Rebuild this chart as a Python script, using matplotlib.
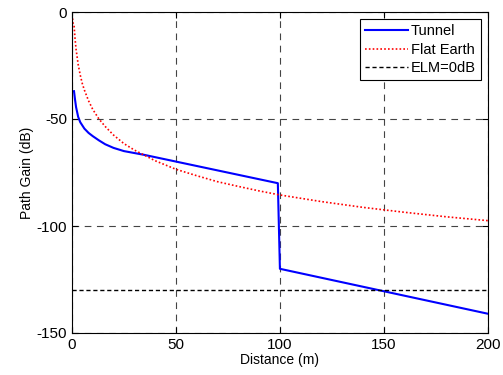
import matplotlib
matplotlib.use('Agg')
import matplotlib.pyplot as plt

plt.rcParams['font.family'] = ['Liberation Sans', 'DejaVu Sans']
plt.rcParams['font.size'] = 9
plt.rcParams['axes.unicode_minus'] = False

# Tunnel path gain
tunnel_x = [1, 1.5, 2, 3, 4, 5, 6, 8, 10, 13, 16, 20, 25, 30, 35, 99, 100, 200]
tunnel_y = [-37, -41, -44.5, -49, -51.5, -53, -54.5, -56.5, -58, -60, -61.8, -63.5, -65, -65.9, -66.8, -80, -120, -141]

# Flat Earth path gain
flat_x = [0.3, 0.5, 0.7, 1, 1.5, 2, 3, 4, 5, 6, 8, 10, 13, 16, 20, 25, 30, 40, 50, 60, 70,
          80, 90, 100, 120, 140, 160, 180, 200]
flat_y = [-3, -5, -5.5, -6, -12.5, -17.5, -24.5, -29.5, -33.5, -36.5, -41.5, -45.5, -50, -53.5,
          -57.5, -61.5, -64.5, -69.5, -73.5, -76.5, -79.3, -81.5, -83.6, -85.5, -88.6, -91.3,
          -93.6, -95.7, -97.5]

elm_level = -130

fig = plt.figure(figsize=(5.03, 3.75), dpi=100)
ax = fig.add_axes([0.143, 0.112, 0.827, 0.856])

ax.plot(tunnel_x, tunnel_y, color='#0000ff', lw=1.5, label='Tunnel')
ax.plot(flat_x, flat_y, color='#ff0000', lw=1.2, ls=(0, (1, 1.3)), label='Flat Earth')
ax.axhline(elm_level, color='black', lw=1.0, ls=(0, (3, 2)), label='ELM=0dB')

ax.set_xlim(0, 200)
ax.set_ylim(-150, 0)
ax.set_xticks([0, 50, 100, 150, 200])
ax.set_yticks([-150, -100, -50, 0])
ax.grid(True, color='#444444', ls=(0, (6, 5)), lw=0.8)
ax.tick_params(direction='in', top=True, right=True, length=4, labelsize=11)
for s in ax.spines.values():
    s.set_linewidth(0.8)

ax.set_xlabel('Distance (m)', fontsize=10, labelpad=1)
ax.set_ylabel('Path Gain (dB)', fontsize=10, labelpad=2)

leg = ax.legend(loc='upper right', fontsize=10.5, frameon=True, fancybox=False,
                edgecolor='black', framealpha=1, handlelength=2.9, handletextpad=0.2,
                borderaxespad=0.5, labelspacing=0.3, borderpad=0.35)
leg.get_frame().set_linewidth(0.8)

fig.savefig('out.png', dpi=100)
